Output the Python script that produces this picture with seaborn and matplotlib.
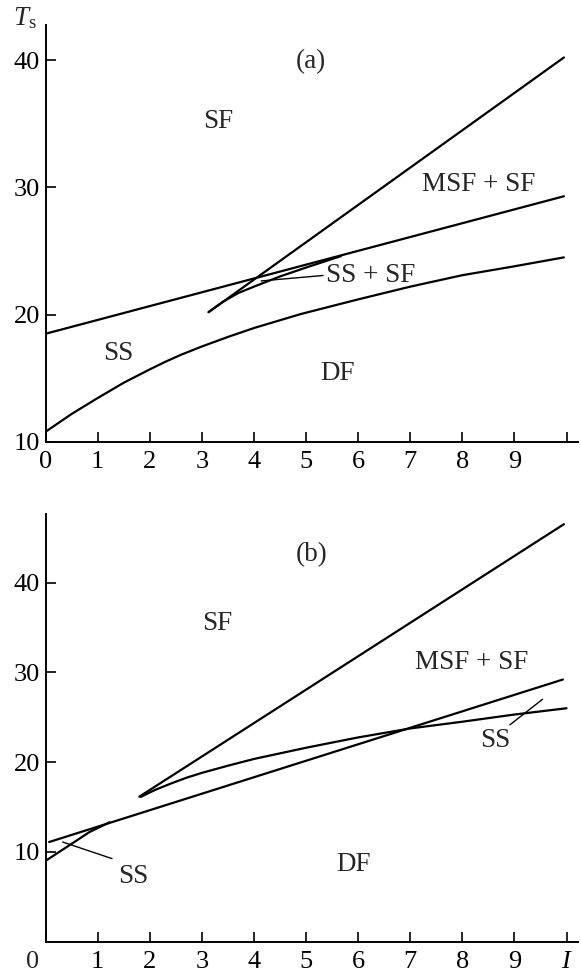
import matplotlib
matplotlib.use("Agg")
import matplotlib.pyplot as plt
import seaborn as sns

# ===== DATA =====
# panel (a)
a_upper_x = [0.0, 9.95]
a_upper_y = [18.5, 29.3]
a_lower_x = [0.0, 0.5, 1.0, 1.5, 2.0, 2.3, 2.6, 3.0, 3.5, 4.0, 4.9, 6.0, 7.0, 8.0, 9.0, 9.95]
a_lower_y = [10.8, 12.2, 13.45, 14.65, 15.7, 16.3, 16.85, 17.5, 18.25, 18.95, 20.05, 21.2, 22.2, 23.1, 23.8, 24.5]
a_steep_x = [3.13, 9.95]
a_steep_y = [20.2, 40.2]
a_ssf_x = [3.13, 3.4, 3.7, 4.0, 4.5, 5.0, 5.67]
a_ssf_y = [20.2, 21.0, 21.7, 22.2, 23.0, 23.7, 24.6]

# panel (b)
b_steep_x = [1.8, 9.95]
b_steep_y = [16.15, 46.5]
b_msf_x = [0.07, 9.93]
b_msf_y = [11.1, 29.2]
b_ss_x = [1.83, 2.1, 2.4, 2.7, 3.0, 3.5, 4.0, 5.0, 6.0, 7.0, 8.0, 9.0, 10.0]
b_ss_y = [16.13, 16.9, 17.6, 18.25, 18.8, 19.6, 20.35, 21.6, 22.75, 23.75, 24.5, 25.3, 26.0]
b_low_x = [0.0, 0.49, 0.84, 1.23]
b_low_y = [9.0, 10.86, 12.2, 13.3]

x_ticks = list(range(11))
a_xlabels = [str(i) for i in range(10)] + [""]
b_xlabels = [""] + [str(i) for i in range(1, 10)] + ["$I$"]
y_ticks = [10, 20, 30, 40]

# ===== STYLE =====
sns.set_style("ticks")
plt.rcParams["font.family"] = ["Liberation Serif", "DejaVu Serif"]
plt.rcParams["mathtext.fontset"] = "custom"
plt.rcParams["mathtext.rm"] = "Liberation Serif"
plt.rcParams["mathtext.it"] = "Liberation Serif:italic"
FS = 19.5
FS_TICK = 19
LW = 1.6

fig = plt.figure(figsize=(5.81, 9.75), dpi=100)
ax_a = fig.add_axes([45.5 / 581, 1 - 442 / 975, 532.5 / 581, 417 / 975])
ax_b = fig.add_axes([45.5 / 581, 1 - 941.7 / 975, 532.5 / 581, 427.4 / 975])


def draw(ax, x, y):
    sns.lineplot(x=x, y=y, ax=ax, color="black", lw=LW, sort=False, estimator=None)


for x, y in [(a_upper_x, a_upper_y), (a_lower_x, a_lower_y),
             (a_steep_x, a_steep_y), (a_ssf_x, a_ssf_y)]:
    draw(ax_a, x, y)

for x, y in [(b_steep_x, b_steep_y), (b_msf_x, b_msf_y),
             (b_ss_x, b_ss_y), (b_low_x, b_low_y)]:
    draw(ax_b, x, y)

for ax, ylim, xlabels in [(ax_a, (10, 42.75), a_xlabels), (ax_b, (0, 47.6), b_xlabels)]:
    ax.set_xlim(0, 10.22)
    ax.set_ylim(*ylim)
    ax.set_xticks(x_ticks)
    ax.set_xticklabels(xlabels)
    ax.set_yticks(y_ticks)
    ax.tick_params(axis="both", direction="in", length=7, width=1.2,
                   labelsize=FS_TICK, colors="black")
    ax.tick_params(axis="x", pad=6.5)
    ax.tick_params(axis="y", pad=4)
    for s in ["left", "bottom"]:
        ax.spines[s].set_linewidth(1.4)
        ax.spines[s].set_color("black")
    sns.despine(ax=ax)
    ax.set_xlabel("")
    ax.set_ylabel("")

# separate "0" under the bottom panel, offset left of the axis
ax_b.annotate("0", xy=(0, 0), xycoords=("data", "axes fraction"),
              xytext=(-9, -6.5), textcoords="offset points",
              ha="center", va="top", fontsize=FS_TICK)

# region labels, panel (a)
ax_a.text(5.10, 39.87, "(a)", ha="center", va="center", fontsize=FS)
ax_a.text(3.32, 35.16, "SF", ha="center", va="center", fontsize=FS)
ax_a.text(8.31, 30.24, "MSF + SF", ha="center", va="center", fontsize=FS)
ax_a.text(1.39, 16.97, "SS", ha="center", va="center", fontsize=FS)
ax_a.text(5.60, 15.40, "DF", ha="center", va="center", fontsize=FS)
ax_a.annotate("SS + SF", xy=(4.14, 22.65), xytext=(5.39, 23.1),
              ha="left", va="center", fontsize=FS,
              arrowprops=dict(arrowstyle="-", lw=1.0, color="black",
                              shrinkA=0, shrinkB=0, relpos=(0, 0.5)))

# region labels, panel (b)
ax_b.text(5.10, 43.06, "(b)", ha="center", va="center", fontsize=FS)
ax_b.text(3.30, 35.47, "SF", ha="center", va="center", fontsize=FS)
ax_b.text(8.17, 31.09, "MSF + SF", ha="center", va="center", fontsize=FS)
ax_b.text(5.92, 8.60, "DF", ha="center", va="center", fontsize=FS)
ax_b.annotate("SS", xy=(0.33, 11.1), xytext=(1.68, 7.3),
              ha="center", va="center", fontsize=FS,
              arrowprops=dict(arrowstyle="-", lw=1.0, color="black",
                              shrinkA=4, shrinkB=0, relpos=(0.3, 1.0)))
ax_b.annotate("SS", xy=(9.54, 27.0), xytext=(8.63, 22.4),
              ha="center", va="center", fontsize=FS,
              arrowprops=dict(arrowstyle="-", lw=1.0, color="black",
                              shrinkA=0, shrinkB=0, relpos=(0.85, 1.0)))

# axis label T_s at the top left
fig.text(13 / 581, 1 - 25 / 975, r"$T_{\rm s}$", ha="left", va="baseline", fontsize=FS)

fig.savefig("out.png", dpi=100)
